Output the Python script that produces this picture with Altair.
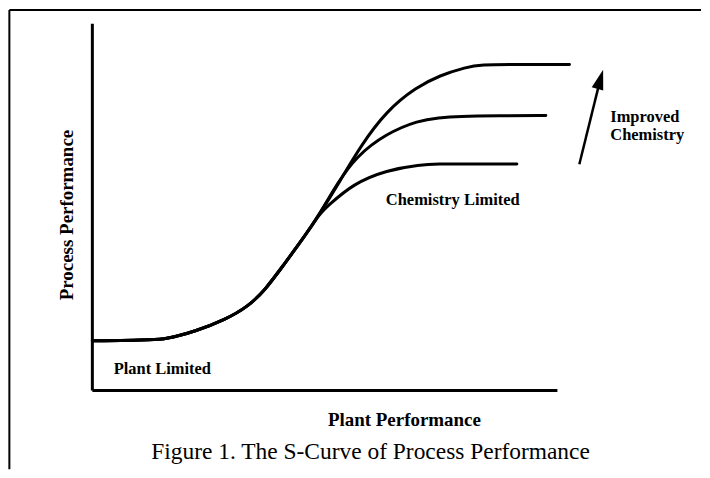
import altair as alt
import pandas as pd

# Conceptual units: x "Plant Performance" 0..100 along the axis, y "Process Performance" 0..100
# Shared S-curve segment (plant limited region and steep rise)
shared_x = [-0.3, 5.8, 12.3, 15.5, 21.9, 28.4, 33.3, 37.0, 40.7, 45.4, 48.8]
shared_y = [13.8, 13.8, 14.05, 14.2, 16.3, 19.5, 23.05, 27.6, 33.9, 41.9, 48.3]

# Branches after the curves separate (chemistry limited plateaus)
top_x = [53.1, 57.4, 63.2, 69.6, 74.6, 80.4, 83.2, 91.8, 102.6]
top_y = [57.0, 66.3, 76.2, 82.5, 85.7, 87.9, 88.6, 88.65, 88.65]

mid_x = [52.5, 56.5, 63.0, 70.1, 74.4, 78.7, 87.3, 97.5]
mid_y = [56.35, 63.6, 69.9, 73.5, 74.2, 74.6, 74.75, 74.8]

bot_x = [50.3, 56.0, 63.2, 70.3, 74.6, 78.7, 91.25]
bot_y = [50.1, 56.4, 60.0, 61.5, 61.7, 61.7, 61.7]

series_names = ["Top", "Middle", "Bottom"]

rows = []
for name, bx, by in zip(series_names, [top_x, mid_x, bot_x], [top_y, mid_y, bot_y]):
    for x, y in zip(shared_x + bx, shared_y + by):
        rows.append({"series": name, "x": x, "y": y})
curves = pd.DataFrame(rows)

xs = alt.Scale(domain=[-18.28, 130.97], nice=False, zero=False)
ys = alt.Scale(domain=[-21.08, 103.78], nice=False, zero=False)

def X(f="x"):
    return alt.X(f"{f}:Q", scale=xs, axis=None)

def Y(f="y"):
    return alt.Y(f"{f}:Q", scale=ys, axis=None)

line = alt.Chart(curves).mark_line(
    color="black", strokeWidth=3, interpolate="basis", strokeCap="round"
).encode(x=X(), y=Y(), detail="series:N")

# Axes (left and bottom lines)
axes = pd.DataFrame({
    "x": [-0.3, -0.3], "y": [99.7, 0.27],
    "x2": [-0.3, 100.0], "y2": [0.27, 0.27],
})
axis_rules = alt.Chart(axes).mark_rule(color="black", strokeWidth=3).encode(
    x=X("x"), y=Y("y"), x2="x2:Q", y2="y2:Q"
)

# Figure frame (left and top edges)
frame = pd.DataFrame({
    "x": [-18.2, -18.2], "y": [-21.08, 103.4],
    "x2": [-18.2, 130.97], "y2": [103.4, 103.4],
})
frame_rules = alt.Chart(frame).mark_rule(color="black", strokeWidth=2).encode(
    x=X("x"), y=Y("y"), x2="x2:Q", y2="y2:Q"
)

# Improved-chemistry arrow
arrow_df = pd.DataFrame({"x": [104.73], "y": [61.62], "x2": [109.25], "y2": [84.62]})
arrow_shaft = alt.Chart(arrow_df).mark_rule(color="black", strokeWidth=2.5).encode(
    x=X("x"), y=Y("y"), x2="x2:Q", y2="y2:Q"
)
head_df = pd.DataFrame({"x": [109.25], "y": [84.62]})
arrow_head = alt.Chart(head_df).mark_point(
    shape="M0,-1L0.6,1L-0.6,1Z", filled=True, size=400, angle=16.5,
    color="black", opacity=1, strokeWidth=0
).encode(x=X(), y=Y())

def label(text, x, y, size, weight="bold", align="left", angle=0):
    df = pd.DataFrame({"text": [text], "x": [x], "y": [y]})
    kw = dict(font="Liberation Serif", fontSize=size, fontWeight=weight,
              align=align, baseline="alphabetic", color="black")
    if angle:
        kw["angle"] = angle
    return alt.Chart(df).mark_text(**kw).encode(x=X(), y=Y(), text="text:N")

texts = [
    label("Plant Limited", 4.3, 4.86, 16.5),
    label("Chemistry Limited", 63.0, 50.5, 16.5),
    label("Improved", 111.4, 73.05, 16.5),
    label("Chemistry", 111.4, 68.3, 16.5),
    label("Plant Performance", 67.0, -9.46, 19, align="center"),
    label("Process Performance", -4.52, 47.84, 19, align="center", angle=270),
    label("Figure 1. The S-Curve of Process Performance", 59.7, -18.4, 23.5,
          weight="normal", align="center"),
]

chart = alt.layer(
    frame_rules, axis_rules, line, arrow_shaft, arrow_head, *texts
).properties(width=694, height=462, padding=0).configure_view(stroke=None)

chart.save("out.html", embed_options={"renderer": "svg", "actions": False})
